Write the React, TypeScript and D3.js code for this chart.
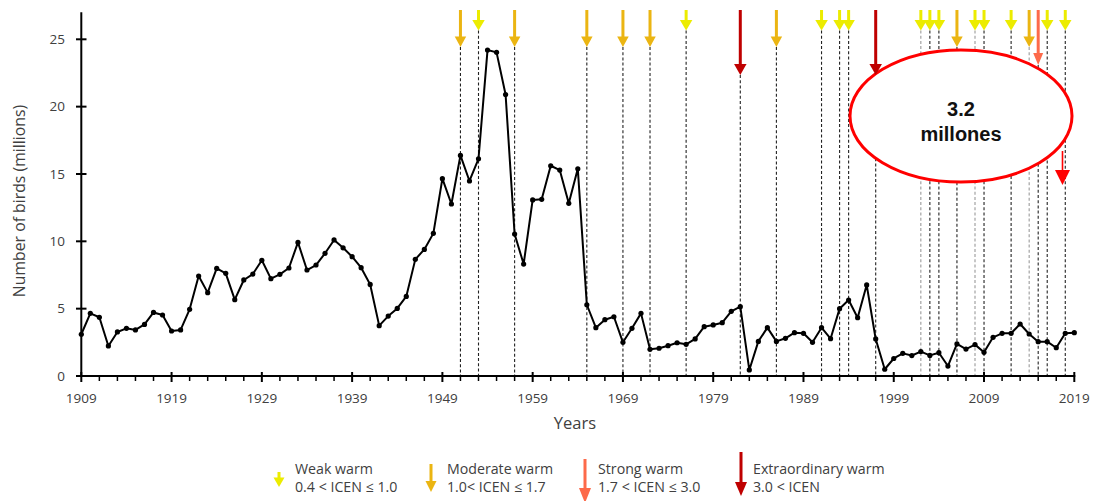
import React from "react";
import * as d3 from "d3";

const years: number[] = d3.range(1909, 2020);
const birds: number[] = [
  3.1, 4.65, 4.36, 2.23, 3.27, 3.54, 3.42, 3.83, 4.72, 4.53,
  3.34, 3.42, 4.95, 7.42, 6.19, 7.99, 7.62, 5.67, 7.13, 7.57,
  8.59, 7.23, 7.55, 8.02, 9.92, 7.87, 8.24, 9.11, 10.1, 9.52,
  8.86, 8.04, 6.8, 3.74, 4.45, 5.02, 5.91, 8.66, 9.4, 10.59,
  14.65, 12.77, 16.38, 14.48, 16.13, 24.2, 24.03, 20.9, 10.54, 8.31,
  13.07, 13.12, 15.61, 15.29, 12.82, 15.39, 5.29, 3.59, 4.18, 4.4,
  2.5, 3.54, 4.65, 1.98, 2.06, 2.25, 2.47, 2.35, 2.75, 3.66,
  3.79, 3.96, 4.8, 5.15, 0.45, 2.57, 3.59, 2.57, 2.8, 3.22,
  3.17, 2.5, 3.59, 2.77, 5.0, 5.64, 4.33, 6.76, 2.75, 0.5,
  1.3, 1.68, 1.52, 1.81, 1.53, 1.73, 0.74, 2.38, 2.0, 2.33,
  1.76, 2.87, 3.17, 3.17, 3.86, 3.12, 2.55, 2.55, 2.1, 3.17,
  3.22,
];

const xTickYears: number[] = [1909, 1919, 1929, 1939, 1949, 1959, 1969, 1979, 1989, 1999, 2009, 2019];
const yTicks: number[] = [0, 5, 10, 15, 20, 25];

type Kind = "weak" | "moderate" | "strong" | "extra";
const eventYears: number[] = [1951, 1953, 1957, 1965, 1969, 1972, 1976, 1982, 1986, 1991, 1993, 1994, 1997, 2002, 2003, 2004, 2006, 2008, 2009, 2012, 2014, 2015, 2016, 2018];
const eventKinds: Kind[] = ["moderate", "weak", "moderate", "moderate", "moderate", "moderate", "weak", "extra", "moderate", "weak", "weak", "weak", "extra", "weak", "weak", "weak", "moderate", "weak", "weak", "weak", "moderate", "strong", "weak", "weak"];
const grayLineYears: number[] = [2002, 2008, 2014];

const kindStyle: Record<Kind, { color: string; headStart: number; tip: number; headW: number }> = {
  weak: { color: "#ecec00", headStart: 20, tip: 30.5, headW: 12.5 },
  moderate: { color: "#ebb512", headStart: 36.5, tip: 47, headW: 11.5 },
  strong: { color: "#fd6a4a", headStart: 53, tip: 65, headW: 10 },
  extra: { color: "#bf0000", headStart: 64, tip: 75, headW: 12.5 },
};

const legendLabels: string[] = ["Weak warm", "Moderate warm", "Strong warm", "Extraordinary warm"];
const legendRanges: string[] = ["0.4 < ICEN ≤ 1.0", "1.0< ICEN ≤ 1.7", "1.7 < ICEN ≤ 3.0", "3.0 < ICEN"];
const legendKinds: Kind[] = ["weak", "moderate", "strong", "extra"];

const W = 1098;
const H = 501;
const x = d3.scaleLinear().domain([1909, 2019]).range([81.3, 1074.3]);
const y = d3.scaleLinear().domain([0, 25]).range([376, 39.3]);
const yTop = y(27);

const textColor = "#404040";
const font = "'Open Sans', 'Liberation Sans', sans-serif";

function Arrow({ cx, top, headStart, tip, headW, color, shaftW = 3 }: { cx: number; top: number; headStart: number; tip: number; headW: number; color: string; shaftW?: number }) {
  return (
    <g>
      <rect x={cx - shaftW / 2} y={top} width={shaftW} height={headStart - top + 1} fill={color} />
      <path d={`M${cx - headW / 2},${headStart} L${cx + headW / 2},${headStart} L${cx},${tip} Z`} fill={color} />
    </g>
  );
}

export default function App() {
  const line = d3
    .line<number>()
    .x((_, i) => x(years[i]))
    .y((d) => y(d));

  const minorTicks = d3.range(1909, 2020, 2).filter((yr) => !xTickYears.includes(yr));

  const legendX = [279, 431, 585, 741];
  const legendTextX = [295, 447, 598, 753];
  const legendArrows = [
    { top: 472, headStart: 477.5, tip: 487, headW: 11 },
    { top: 464, headStart: 481, tip: 492, headW: 11 },
    { top: 459, headStart: 488, tip: 503, headW: 12 },
    { top: 452, headStart: 482, tip: 496, headW: 12 },
  ];

  return (
    <svg
      width={W}
      height={H}
      style={{ position: "absolute", left: 0, top: 0, background: "#fff" }}
      fontFamily={font}
    >
      <rect width={W} height={H} fill="#fff" />

      {/* dashed event lines */}
      {eventYears.map((yr, i) => {
        const st = kindStyle[eventKinds[i]];
        return (
          <line
            key={"dl" + yr}
            x1={x(yr)}
            x2={x(yr)}
            y1={st.tip}
            y2={y(0)}
            stroke={grayLineYears.includes(yr) ? "#9a9a9a" : "#222"}
            strokeWidth={1.1}
            strokeDasharray="3,2.2"
          />
        );
      })}

      {/* ellipse callout */}
      <ellipse cx={961} cy={116} rx={111} ry={66} fill="#fff" stroke="#ff0000" strokeWidth={3} />
      <text x={961} y={116} textAnchor="middle" fontFamily="'Liberation Sans', Arial, sans-serif" fontWeight="bold" fontSize={20} fill="#111">
        <tspan x={961} y={116}>3.2</tspan>
        <tspan x={961} y={141}>millones</tspan>
      </text>
      <Arrow cx={1062.5} top={151} headStart={170} tip={185} headW={15} color="#ff0000" shaftW={1.6} />

      {/* arrows */}
      {eventYears.map((yr, i) => {
        const st = kindStyle[eventKinds[i]];
        return <Arrow key={"ar" + yr} cx={x(yr)} top={10} headStart={st.headStart} tip={st.tip} headW={st.headW} color={st.color} />;
      })}

      {/* axes */}
      <line x1={x(1909)} x2={x(1909)} y1={yTop} y2={y(0) + 1} stroke="#000" strokeWidth={2} />
      <line x1={x(1909) - 1} x2={x(2019) + 1} y1={y(0)} y2={y(0)} stroke="#000" strokeWidth={2} />
      {yTicks.map((t) => (
        <g key={"yt" + t}>
          <line x1={76} x2={86.5} y1={y(t)} y2={y(t)} stroke="#000" strokeWidth={2} />
          <text x={65} y={y(t)} dy="0.35em" textAnchor="end" fontSize={13.5} fill={textColor}>
            {t}
          </text>
        </g>
      ))}
      {xTickYears.map((t) => (
        <g key={"xt" + t}>
          <line x1={x(t)} x2={x(t)} y1={372} y2={382} stroke="#000" strokeWidth={2} />
          <text x={x(t)} y={398} dy="0.35em" textAnchor="middle" fontSize={13.5} fill={textColor}>
            {t}
          </text>
        </g>
      ))}
      {minorTicks.map((t) => (
        <line key={"mt" + t} x1={x(t)} x2={x(t)} y1={376} y2={381} stroke="#000" strokeWidth={1.5} />
      ))}

      {/* axis titles */}
      <text x={575} y={423} dy="0.35em" textAnchor="middle" fontSize={16.5} fill={textColor}>
        Years
      </text>
      <text
        transform={`translate(19,201) rotate(-90)`}
        textAnchor="middle"
        dy="0.35em"
        fontSize={15.8}
        fill={textColor}
      >
        Number of birds (millions)
      </text>

      {/* data line */}
      <path d={line(birds) || ""} fill="none" stroke="#000" strokeWidth={2} strokeLinejoin="round" />
      {birds.map((v, i) => (
        <circle key={"pt" + i} cx={x(years[i])} cy={y(v)} r={2.6} fill="#000" />
      ))}

      {/* legend */}
      {legendKinds.map((k, i) => (
        <g key={"lg" + k}>
          <Arrow cx={legendX[i]} top={legendArrows[i].top} headStart={legendArrows[i].headStart} tip={legendArrows[i].tip} headW={legendArrows[i].headW} color={kindStyle[k].color} />
          <text x={legendTextX[i]} y={469} dy="0.35em" fontSize={14.2} fill={textColor}>
            {legendLabels[i]}
          </text>
          <text x={legendTextX[i]} y={487} dy="0.35em" fontSize={14.2} fill={textColor}>
            {legendRanges[i]}
          </text>
        </g>
      ))}
    </svg>
  );
}
